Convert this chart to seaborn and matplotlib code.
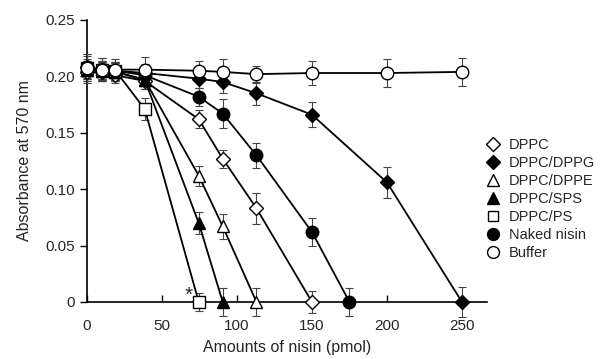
import matplotlib
matplotlib.use("Agg")
import matplotlib.pyplot as plt
import seaborn as sns
import pandas as pd
from matplotlib.lines import Line2D

# ---- data ----
dppc_x = [0, 10, 19, 38.5, 74.5, 90.5, 113, 150]
dppc_y = [0.204, 0.204, 0.201, 0.196, 0.162, 0.127, 0.083, 0.0]
dppc_e = [0.008, 0.008, 0.007, 0.007, 0.008, 0.008, 0.014, 0.010]

dppg_x = [0, 10, 19, 38.5, 74.5, 90.5, 113, 150, 200, 250]
dppg_y = [0.208, 0.206, 0.205, 0.203, 0.198, 0.195, 0.185, 0.166, 0.106, 0.0]
dppg_e = [0.012, 0.010, 0.008, 0.008, 0.008, 0.010, 0.010, 0.011, 0.014, 0.013]

dppe_x = [0, 10, 19, 38.5, 74.5, 90.5, 113]
dppe_y = [0.206, 0.205, 0.204, 0.197, 0.112, 0.067, 0.0]
dppe_e = [0.008, 0.008, 0.008, 0.008, 0.009, 0.011, 0.012]

sps_x = [0, 10, 19, 38.5, 74.5, 90.5]
sps_y = [0.206, 0.205, 0.204, 0.197, 0.070, 0.0]
sps_e = [0.008, 0.008, 0.008, 0.008, 0.010, 0.012]

ps_x = [0, 10, 19, 38.5, 74.5]
ps_y = [0.207, 0.206, 0.205, 0.171, 0.0]
ps_e = [0.008, 0.008, 0.008, 0.010, 0.008]

naked_x = [0, 10, 19, 38.5, 74.5, 90.5, 113, 150, 175]
naked_y = [0.208, 0.206, 0.205, 0.201, 0.182, 0.167, 0.130, 0.062, 0.0]
naked_e = [0.010, 0.008, 0.008, 0.008, 0.008, 0.013, 0.011, 0.0125, 0.012]

buffer_x = [0, 10, 19, 38.5, 74.5, 90.5, 113, 150, 200, 250]
buffer_y = [0.207, 0.206, 0.206, 0.206, 0.205, 0.204, 0.202, 0.203, 0.203, 0.204]
buffer_e = [0.013, 0.010, 0.009, 0.011, 0.009, 0.011, 0.0075, 0.0105, 0.012, 0.0125]

labels = ["DPPC", "DPPC/DPPG", "DPPC/DPPE", "DPPC/SPS", "DPPC/PS", "Naked nisin", "Buffer"]
xticks = [0, 50, 100, 150, 200, 250]
yticks = [0, 0.05, 0.10, 0.15, 0.20, 0.25]
yticklabels = ["0", "0.05", "0.10", "0.15", "0.20", "0.25"]

series = [
    (labels[0], dppc_x, dppc_y, dppc_e, "D", "white", 7.0),
    (labels[1], dppg_x, dppg_y, dppg_e, "D", "black", 7.0),
    (labels[2], dppe_x, dppe_y, dppe_e, "^", "white", 8.5),
    (labels[3], sps_x, sps_y, sps_e, "^", "black", 8.5),
    (labels[4], ps_x, ps_y, ps_e, "s", "white", 8.0),
    (labels[5], naked_x, naked_y, naked_e, "o", "black", 9.0),
    (labels[6], buffer_x, buffer_y, buffer_e, "o", "white", 9.0),
]

sns.set_theme(style="white")
plt.rcParams["font.family"] = ["Liberation Sans", "DejaVu Sans"]

fig = plt.figure(figsize=(6.0, 3.59), dpi=100)
ax = fig.add_axes([0.145, 0.1588, 0.6667, 0.7855])

handles = []
for i, (name, xs, ys, es, mk, fc, ms) in enumerate(series):
    df = pd.DataFrame({"x": xs, "y": ys})
    ax.errorbar(xs, ys, yerr=es, fmt="none", ecolor="#444444", elinewidth=0.8,
                capsize=3, capthick=0.8, zorder=2 + i * 0.1, clip_on=False)
    sns.lineplot(data=df, x="x", y="y", ax=ax, color="black", linewidth=1.3,
                 marker=mk, markersize=ms,
                 markerfacecolor=fc, markeredgecolor="black", markeredgewidth=1.0,
                 errorbar=None, sort=False, zorder=3 + i * 0.1, clip_on=False)
    handles.append(Line2D([], [], linestyle="none", marker=mk,
                          markersize=ms * 0.95,
                          markerfacecolor=fc, markeredgecolor="black",
                          markeredgewidth=1.0, label=name))

ax.text(67.5, 0.006, "*", fontsize=15, ha="center", va="center")

ax.set_xlim(0, 266.7)
ax.set_ylim(0, 0.25)
ax.set_xticks(xticks)
ax.set_xticklabels([str(t) for t in xticks])
ax.set_yticks(yticks)
ax.set_yticklabels(yticklabels)
ax.tick_params(axis="x", direction="in", length=5, width=1, color="black",
               labelsize=11, pad=12, bottom=True)
ax.tick_params(axis="y", direction="out", length=5, width=1, color="black",
               labelsize=11, pad=4, left=True)
for s in ["top", "right"]:
    ax.spines[s].set_visible(False)
for s in ["left", "bottom"]:
    ax.spines[s].set_color("black")
    ax.spines[s].set_linewidth(1.2)
ax.set_xlabel("Amounts of nisin (pmol)", fontsize=11.5, labelpad=5)
ax.set_ylabel("Absorbance at 570 nm", fontsize=11.5, labelpad=9)
ax.grid(False)

leg = fig.legend(handles=handles, loc="upper left", bbox_to_anchor=(0.8, 0.632),
                 frameon=False, fontsize=10.5, handlelength=1.0, handletextpad=0.6,
                 labelspacing=0.28, borderaxespad=0)

fig.savefig("out.png", dpi=100)
